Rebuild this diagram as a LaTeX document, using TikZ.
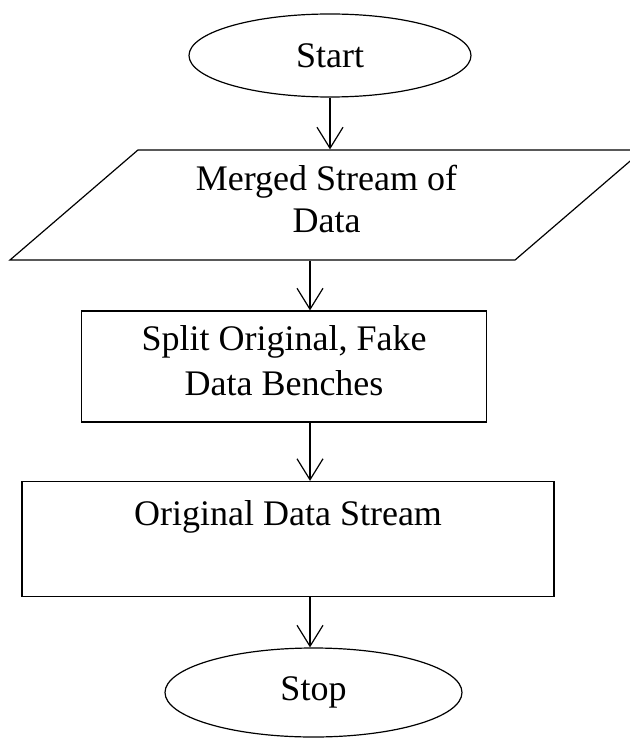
\documentclass[tikz,border=0pt]{standalone}
\usepackage{fontspec}
\setmainfont{Liberation Serif}
\usetikzlibrary{shapes.geometric,arrows.meta}
\tikzset{
  flowline/.style={line width=1.2pt},
  flowarrow/.style={flowline, -{Straight Barb[length=21pt,width=26pt,line width=1.2pt]}},
  terminal/.style={ellipse, draw, flowline, inner sep=0pt},
  procbox/.style={rectangle, draw, flowline, inner sep=0pt, align=center},
}
\begin{document}
\begin{tikzpicture}[x=1pt,y=-1pt,font=\fontsize{36}{42}\selectfont]
        \useasboundingbox (0,0) rectangle (629,738);

        \node[terminal, minimum width=282pt, minimum height=83pt] (start) at (330,55.5) {Start};

        \node[trapezium, draw, flowline, trapezium left angle=32, trapezium right angle=148,
              trapezium stretches body, minimum width=633pt, minimum height=110pt, inner sep=0pt,
              align=center, text depth=12.6pt] (merged) at (326.5,205) {Merged Stream of\\Data};

        \node[procbox, minimum width=405pt, minimum height=111pt, text depth=12.6pt] (split) at (284,366.5)
             {Split Original, Fake\\[3pt]Data Benches};

        \node[procbox, minimum width=532pt, minimum height=115pt, text depth=51pt] (orig) at (288,539)
             {Original Data Stream};

        \node[terminal, minimum width=297pt, minimum height=89pt] (stop) at (313.5,692.5) {Stop};

        % the lower arrows all run down one vertical line
        \coordinate (axis) at (310,0);

        \draw[flowarrow] (start) -- (start |- merged.north);
        \draw[flowarrow] (axis |- merged.south) -- (axis |- split.north);
        \draw[flowarrow] (axis |- split.south) -- (axis |- orig.north);
        \draw[flowarrow] (axis |- orig.south) -- (axis |- stop.north);

\end{tikzpicture}
\end{document}
